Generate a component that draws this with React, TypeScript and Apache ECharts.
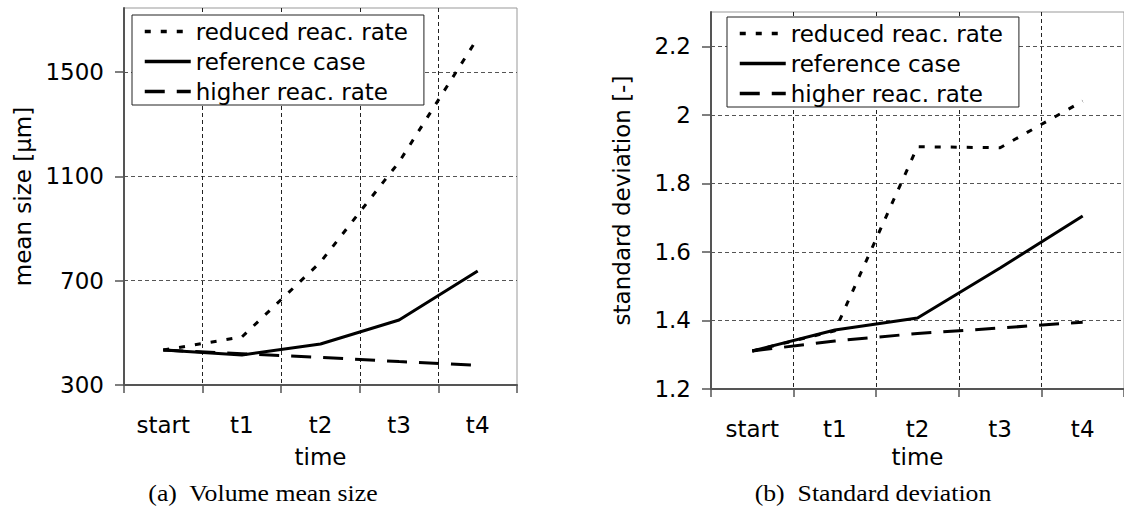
import React, { useEffect, useRef } from "react";
import * as echarts from "echarts";

const categories = ["start", "t1", "t2", "t3", "t4"];
const seriesNames = ["reduced reac. rate", "reference case", "higher reac. rate"];

const meanReduced = [434, 484, 771, 1155, 1630];
const meanReference = [434, 415, 457, 549, 737];
const meanHigher = [434, 420, 406, 390, 375];

const sdReduced = [1.311, 1.37, 1.907, 1.904, 2.04];
const sdReference = [1.311, 1.372, 1.407, 1.553, 1.705];
const sdHigher = [1.311, 1.34, 1.362, 1.378, 1.395];

const captionA = "(a)  Volume mean size";
const captionB = "(b)  Standard deviation";

const SANS = "DejaVu Sans";
const SERIF = "Liberation Serif";
const FS = 23;

const dashStyles: any[] = [[6, 10], "solid", [20, 12]];

function makeSeries(data: number[][], axisIndex: number) {
  return data.map((d, i) => ({
    name: seriesNames[i],
    type: "line",
    xAxisIndex: axisIndex,
    yAxisIndex: axisIndex,
    data: d,
    symbol: "none",
    lineStyle: { color: "#000", width: 3, type: dashStyles[i], cap: "butt" },
    itemStyle: { color: "#000" },
    z: 3 + i,
  }));
}

function xAxisCfg(gridIndex: number, nameGap: number) {
  return {
    type: "category",
    gridIndex,
    data: categories,
    boundaryGap: true,
    name: "time",
    nameLocation: "middle",
    nameGap,
    nameTextStyle: { fontFamily: SANS, fontSize: FS, color: "#000" },
    axisLine: { show: true, lineStyle: { color: "#555", width: 2 } },
    axisTick: { show: true, length: 8, lineStyle: { color: "#555", width: 1.5 } },
    axisLabel: { margin: 28, fontFamily: SANS, fontSize: FS, color: "#000" },
    splitLine: {
      show: true,
      showMinLine: false,
      showMaxLine: false,
      lineStyle: { color: "#222", type: [4, 3], width: 1 },
    },
  };
}

function yAxisCfg(gridIndex: number, name: string, min: number, max: number, interval: number, nameGap: number) {
  return {
    type: "value",
    gridIndex,
    min,
    max,
    interval,
    name,
    nameLocation: "middle",
    nameGap,
    nameRotate: 90,
    nameTextStyle: { fontFamily: SANS, fontSize: FS, color: "#000" },
    axisLine: { show: true, lineStyle: { color: "#555", width: 2 } },
    axisTick: { show: true, length: 9, lineStyle: { color: "#555", width: 1.5 } },
    axisLabel: {
      margin: 20,
      fontFamily: SANS,
      fontSize: FS,
      color: "#000",
      showMaxLabel: false,
      formatter: (v: number) => String(Math.round(v * 1000) / 1000),
    },
    splitLine: {
      show: true,
      showMinLine: false,
      showMaxLine: false,
      lineStyle: { color: "#555", type: [4, 3], width: 1 },
    },
  };
}

function legendCfg(left: number, top: number) {
  return {
    show: true,
    orient: "vertical",
    left,
    top,
    data: seriesNames,
    itemWidth: 46,
    itemHeight: 14,
    itemGap: 7,
    padding: [5, 16, 2, 11],
    backgroundColor: "#fff",
    borderColor: "#222",
    borderWidth: 1,
    borderRadius: 0,
    selectedMode: false,
    itemStyle: { color: "transparent", borderWidth: 0, opacity: 0 },
    lineStyle: { width: 3.5, color: "#000" },
    textStyle: { fontFamily: SANS, fontSize: FS, color: "#000", padding: [0, 0, 0, 0] },
  };
}

export default function App() {
  const ref = useRef<HTMLDivElement>(null);

  useEffect(() => {
    if (!ref.current) return;
    const chart = echarts.init(ref.current, undefined, { renderer: "svg" });
    const option: any = {
      animation: false,
      backgroundColor: "#fff",
      grid: [
        { left: 124, top: 8, right: 607, bottom: 129, show: true, borderColor: "#999", borderWidth: 1, backgroundColor: "transparent" },
        { left: 711, top: 12, right: -2, bottom: 125, show: true, borderColor: "#999", borderWidth: 1, backgroundColor: "transparent" },
      ],
      xAxis: [xAxisCfg(0, 60), xAxisCfg(1, 56)],
      yAxis: [
        yAxisCfg(0, "mean size [\u00b5m]", 300, 1745, 400, 90),
        yAxisCfg(1, "standard deviation [-]", 1.2, 2.3, 0.2, 78),
      ],
      legend: [legendCfg(132, 15), legendCfg(727, 17)],
      series: [
        ...makeSeries([meanReduced, meanReference, meanHigher], 0),
        ...makeSeries([sdReduced, sdReference, sdHigher], 1),
      ],
      graphic: [
        {
          type: "text",
          x: 263,
          y: 493,
          scaleX: 1.12,
          style: { text: captionA, font: `23px "${SERIF}"`, fill: "#000", textAlign: "center", textVerticalAlign: "middle" },
        },
        {
          type: "text",
          x: 873,
          y: 493,
          scaleX: 1.12,
          style: { text: captionB, font: `23px "${SERIF}"`, fill: "#000", textAlign: "center", textVerticalAlign: "middle" },
        },
      ],
    };
    chart.setOption(option);
    return () => chart.dispose();
  }, []);

  return (
    <div
      ref={ref}
      style={{ position: "fixed", left: 0, top: 0, width: 1124, height: 514, background: "#fff" }}
    />
  );
}
